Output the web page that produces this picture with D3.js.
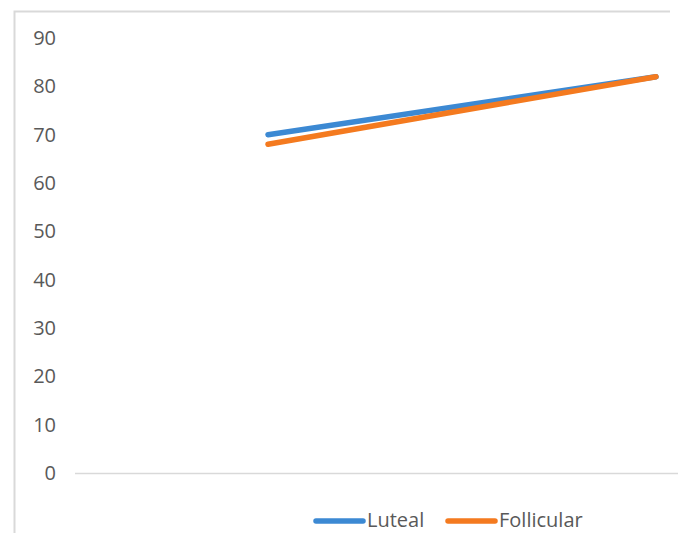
<!DOCTYPE html>
<html>
<head>
<meta charset="utf-8">
<script src="https://cdn.jsdelivr.net/npm/d3@7"></script>
<style>
  html, body { margin: 0; padding: 0; background: #fff; }
  svg { display: block; }
</style>
</head>
<body>
<svg id="chart" width="678" height="533"></svg>
<script>
const categories = ["1", "2"];
const seriesNames = ["Luteal", "Follicular"];
const luteal = [70, 82];
const follicular = [68, 82];
const yTicks = [0, 10, 20, 30, 40, 50, 60, 70, 80, 90];
const colors = ["#3C89D3", "#F47A1F"];

const svg = d3.select("#chart");
const W = 678, H = 533;

// chart frame
svg.append("path")
  .attr("d", "M14.5," + (H + 5) + " V11.5 H670")
  .attr("fill", "none")
  .attr("stroke", "#d9d9d9")
  .attr("stroke-width", 2);

const y = d3.scaleLinear().domain([0, 90]).range([473, 38]);
const x = d3.scaleBand().domain(categories).range([74, 850]).padding(0);

// y axis labels
const yAxis = d3.axisLeft(y).tickValues(yTicks).tickSize(0).tickPadding(0);
const gy = svg.append("g").attr("transform", "translate(56,0)").call(yAxis);
gy.select(".domain").remove();
gy.selectAll("text")
  .attr("font-family", "'Open Sans', sans-serif")
  .attr("font-size", 20)
  .attr("fill", "#595959");

// x axis line
const xAxis = d3.axisBottom(x).tickSize(0).tickFormat(() => "");
const gx = svg.append("g").attr("transform", "translate(0," + (y(0) + 0.5) + ")").call(xAxis);
gx.select(".domain").attr("stroke", "#d9d9d9").attr("stroke-width", 1.5)
  .attr("d", "M75,0H" + W);

// lines
const data = [luteal, follicular];
const line = d3.line()
  .x((d, i) => x(categories[i]) + x.bandwidth() / 2)
  .y(d => y(d));

data.forEach((vals, k) => {
  svg.append("path")
    .datum(vals)
    .attr("d", line)
    .attr("fill", "none")
    .attr("stroke", colors[k])
    .attr("stroke-width", 5.5)
    .attr("stroke-linecap", "round")
    .attr("stroke-linejoin", "round");
});

// legend
const legendItems = [
  { name: seriesNames[0], color: colors[0], x1: 316, x2: 363 },
  { name: seriesNames[1], color: colors[1], x1: 448, x2: 495 }
];
const ly = 521;
legendItems.forEach(it => {
  svg.append("line")
    .attr("x1", it.x1).attr("x2", it.x2)
    .attr("y1", ly).attr("y2", ly)
    .attr("stroke", it.color)
    .attr("stroke-width", 5.5)
    .attr("stroke-linecap", "round");
  svg.append("text")
    .attr("x", it.x2 + 4)
    .attr("y", ly)
    .attr("dy", "0.3em")
    .attr("font-family", "'Open Sans', sans-serif")
    .attr("font-size", 20)
    .attr("fill", "#595959")
    .text(it.name);
});
</script>
</body>
</html>
